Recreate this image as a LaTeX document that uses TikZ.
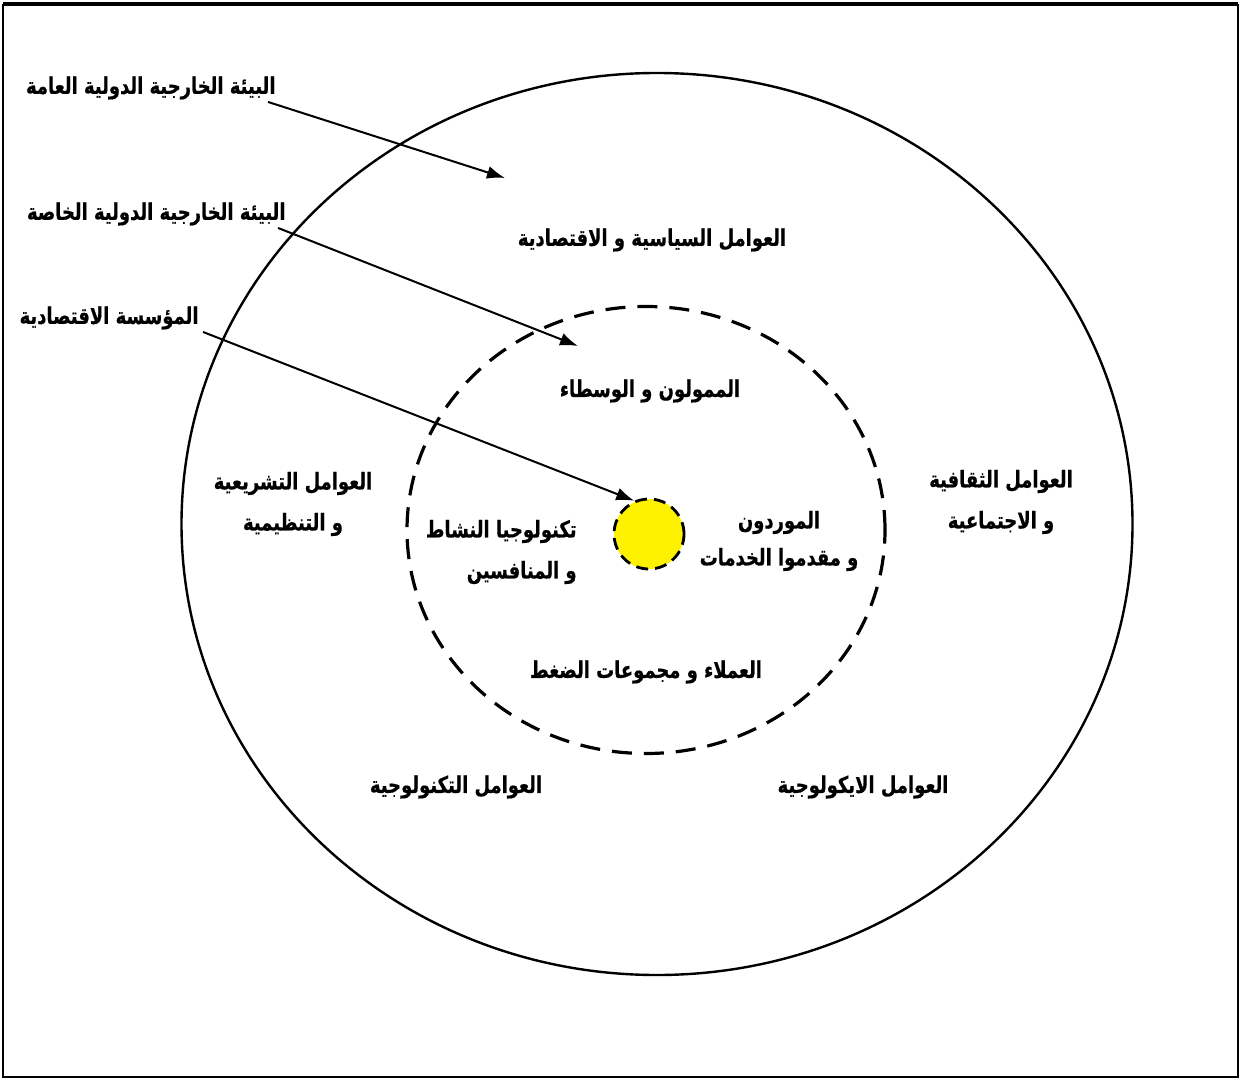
\documentclass[tikz,border=0pt]{standalone}
\usepackage{fontspec}
\usetikzlibrary{shapes.geometric,arrows.meta}
\TeXXeTstate=1
\newfontfamily\arabicfont[Script=Arabic,FakeStretch=0.78,FakeBold=0.6]{DejaVu Sans Bold}
\tikzset{
  lbl/.style={font=\arabicfont\fontsize{11.5}{20.5}\selectfont, inner sep=1pt},
  ptr/.style={line width=1pt, -{Latex[length=9pt,width=6.5pt]}},
}
\begin{document}
\begin{tikzpicture}[x=0.5pt,y=-0.5pt]
\useasboundingbox (0,0) rectangle (1240,1080);
\draw[line width=1.2pt] (3,5) rectangle (1238,1077);
\draw[line width=2pt] (3,4.5) -- (1238,4.5);

\node[ellipse, draw, line width=1.2pt, minimum width=475.5pt, minimum height=451pt, inner sep=0pt] (outer) at (657,524) {};
\node[ellipse, draw, line width=1.6pt, dash pattern=on 10pt off 6pt, minimum width=239pt, minimum height=223.5pt, inner sep=0pt] (inner) at (646,530) {};
\node[circle, draw, fill=yellow, line width=1.4pt, dash pattern=on 6pt off 3.5pt, minimum size=35pt, inner sep=0pt] (core) at (649,534) {};

% left pointer labels
\node[lbl, anchor=east] (l1) at (278,88) {\beginR البيئة الخارجية الدولية العامة\endR};
\node[lbl, anchor=east] (l2) at (288,214) {\beginR البيئة الخارجية الدولية الخاصة\endR};
\node[lbl, anchor=east] (l3) at (201,318) {\beginR المؤسسة الاقتصادية\endR};

\coordinate (t1) at (505,178);
\coordinate (t2) at (578,346);

\draw[ptr] ([xshift=-5pt]l1.south east) -- (t1);
\draw[ptr] ([xshift=-5pt]l2.south east) -- (t2);
\draw[ptr] ([xshift=1pt]l3.south east) -- (core.114);

% outer ring labels
\node[lbl] (pol) at (652,240) {\beginR العوامل السياسية و الاقتصادية\endR};
\node[lbl, align=center] (leg) at (293,504) {\beginR العوامل التشريعية\endR\\\beginR و التنظيمية\endR};
\node[lbl, align=center] (cul) at (1001,502) {\beginR العوامل الثقافية\endR\\\beginR و الاجتماعية\endR};
\node[lbl] (tec) at (456,787) {\beginR العوامل التكنولوجية\endR};
\node[lbl] (eco) at (863,787) {\beginR العوامل الايكولوجية\endR};

% inner ring labels
\node[lbl] (fin) at (650,391) {\beginR الممولون و الوسطاء\endR};
\node[lbl, align=right, anchor=east] (act) at (579,552) {\beginR تكنولوجيا النشاط\endR\\\beginR و المنافسين\endR};
\node[lbl, align=center] (sup) at (779,541) {\beginR الموردون\endR\\[-2pt]\beginR و مقدموا الخدمات\endR};
\node[lbl] (cli) at (646,672) {\beginR العملاء و مجموعات الضغط\endR};
\end{tikzpicture}
\end{document}
